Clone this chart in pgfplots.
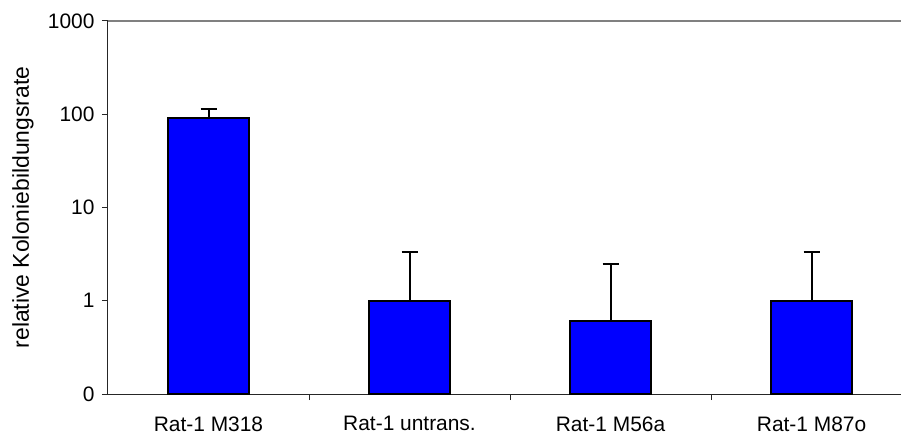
\documentclass[border=0pt]{standalone}
\usepackage{fontspec}
\setmainfont{Liberation Sans}
\usepackage{pgfplots}
\pgfplotsset{compat=1.18}
\begin{document}
\begin{tikzpicture}
\useasboundingbox (-108bp,-44bp) rectangle (793bp,394bp);
\begin{axis}[
  scale only axis,
  width=793bp, height=373bp,
  at={(0,0)}, anchor=south west,
  ymode=log, log origin=infty,
  ymin=0.1, ymax=1000,
  xmin=-0.5, xmax=3.445,
  axis x line=bottom, axis y line=left,
  axis line style={-, line width=1bp, black!85},
  ytick={0.1,1,10,100,1000},
  yticklabels={0,1,10,100,1000},
  xtick={0,1,2,3},
  xticklabels={Rat-1 M318,Rat-1 untrans.,Rat-1 M56a,Rat-1 M87o},
  minor xtick={0.5,1.5,2.5},
  major x tick style={draw=none},
  minor x tick style={line width=1bp, black!85},
  minor tick length=6bp,
  major tick length=6bp,
  y tick style={line width=1bp, black!85},
  tick align=outside,
  yminorticks=false,
  /pgf/number format/assume math mode=true,
  tick label style={font=\fontsize{21}{25}\selectfont},
  yticklabel style={xshift=-4bp},
  xticklabel style={yshift=-13bp},
  ylabel={relative Koloniebildungsrate},
  every axis y label/.style={at={([xshift=-79bp]rel axis cs:0,0.5)}, rotate=90, anchor=base, font=\fontsize{23}{27}\selectfont},
  clip=false,
]
\draw[gray, line width=1.3bp] (rel axis cs:0,1) -- (rel axis cs:1,1);
\addplot[ybar, bar width=81bp, fill={rgb,255:red,0;green,0;blue,255}, draw=black, line width=2bp,
  error bars/.cd, y dir=plus, y explicit,
  error bar style={line width=2bp, black},
  error mark options={rotate=90, mark size=8bp, line width=2bp, black}]
coordinates {
  (0,92) +- (0,21)
  (1,1.0) +- (0,2.3)
  (2,0.6) +- (0,1.85)
  (3,1.0) +- (0,2.3)
};
\end{axis}
\end{tikzpicture}
\end{document}
